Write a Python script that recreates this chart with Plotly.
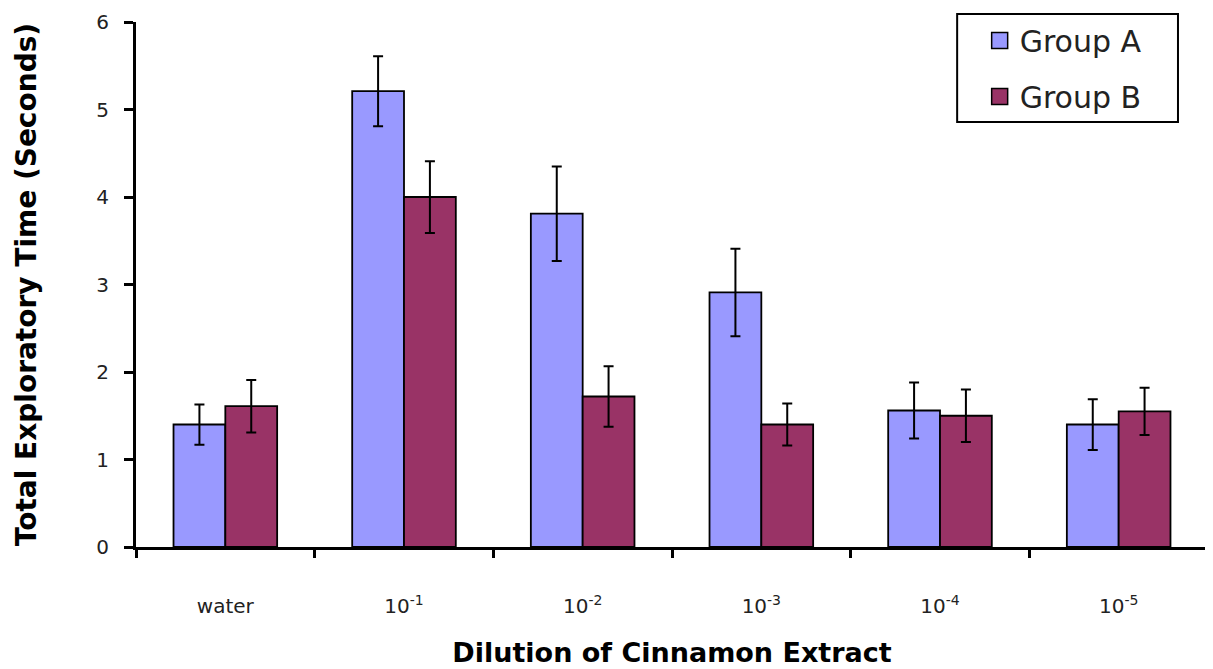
import plotly.graph_objects as go

categories = ["water", "10<sup>-1</sup>", "10<sup>-2</sup>", "10<sup>-3</sup>", "10<sup>-4</sup>", "10<sup>-5</sup>"]
group_a = [1.40, 5.21, 3.81, 2.91, 1.56, 1.40]
group_a_err = [0.23, 0.40, 0.54, 0.50, 0.32, 0.29]
group_b = [1.61, 4.00, 1.72, 1.40, 1.50, 1.55]
group_b_err = [0.30, 0.41, 0.345, 0.24, 0.30, 0.27]
y_ticks = [0, 1, 2, 3, 4, 5, 6]
series_names = ["Group A", "Group B"]
series_colors = ["#9999FF", "#993366"]

FONT = "DejaVu Sans, Liberation Sans, Arial, sans-serif"

fig = go.Figure()
for name, vals, errs, col in zip(series_names, [group_a, group_b], [group_a_err, group_b_err], series_colors):
    fig.add_trace(go.Bar(
        x=categories, y=vals, name=name, showlegend=False,
        marker=dict(color=col, line=dict(color="black", width=1.8)),
        error_y=dict(type="data", array=errs, color="black", thickness=2, width=5),
    ))
# legend entries (square swatches like the reference)
for name, col in zip(series_names, series_colors):
    fig.add_trace(go.Scatter(
        x=[None], y=[None], mode="markers", name=name, legendgroup=name,
        marker=dict(symbol="square", size=20, color=col, line=dict(color="black", width=1.5)),
    ))

fig.update_layout(
    width=1213, height=669,
    margin=dict(l=127.5, r=13, t=14, b=130, autoexpand=False),
    paper_bgcolor="white", plot_bgcolor="white",
    barmode="group", bargap=0.42, bargroupgap=0,
    font=dict(family=FONT, color="black"),
    showlegend=True,
    legend=dict(
        x=0.787, y=1.0143, xanchor="left", yanchor="top",
        bgcolor="rgba(0,0,0,0)", borderwidth=0,
        font=dict(size=30, family=FONT, color="#222"),
        traceorder="grouped", tracegroupgap=14,
    ),
    shapes=[dict(type="rect", xref="paper", yref="paper",
                 x0=0.766, x1=0.972, y0=0.8095, y1=1.0152,
                 line=dict(color="black", width=2), fillcolor="white", layer="above")],
    xaxis=dict(
        type="category", showline=True, linecolor="black", linewidth=3,
        ticks="outside", tickson="boundaries", ticklen=8, tickwidth=3, tickcolor="black",
        tickfont=dict(size=20, family=FONT, color="#222"),
        ticklabelstandoff=39,
        showgrid=False, zeroline=False,
        title=dict(text="<b>Dilution of Cinnamon Extract</b>", font=dict(size=27, family=FONT), standoff=27),
        automargin=False,
    ),
    yaxis=dict(
        range=[0, 6], tickvals=y_ticks, showline=True, linecolor="black", linewidth=3,
        ticks="outside", ticklen=9, tickwidth=3, tickcolor="black",
        tickfont=dict(size=20, family=FONT, color="#222"),
        ticklabelstandoff=11,
        showgrid=False, zeroline=False,
        title=dict(text="<b>Total Exploratory Time (Seconds)</b>", font=dict(size=28, family=FONT), standoff=52),
        automargin=False,
    ),
)

fig.write_html("out.html")
